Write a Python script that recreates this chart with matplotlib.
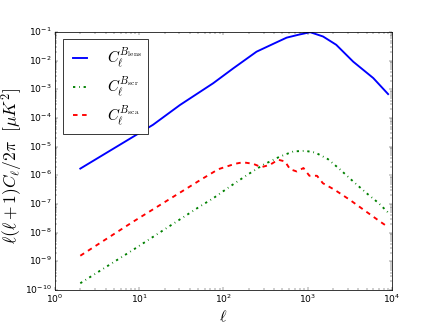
import matplotlib
matplotlib.use('Agg')
import matplotlib.pyplot as plt
from matplotlib.ticker import LogLocator

plt.style.use('classic')
plt.rcParams['mathtext.fontset'] = 'cm'

# multipoles and spectra
ell_lens = [2, 14.6, 30.5, 75.6, 131, 247, 408, 563, 775, 1070, 1520, 2180, 3470, 6000, 9000]
cl_lens = [1.70e-6, 5.75e-5, 2.82e-4, 1.62e-3, 5.37e-3, 2.04e-2, 4.07e-2, 6.31e-2,
           7.94e-2, 9.77e-2, 6.92e-2, 3.55e-2, 9.12e-3, 2.45e-3, 6.76e-4]

ell_scr = [2, 8.5, 52.5, 75.9, 120, 191, 295, 468, 676, 933, 1230, 1740, 2400, 3470,
           5010, 6920, 9000]
cl_scr = [1.70e-10, 2.51e-9, 8.13e-8, 1.58e-7, 4.07e-7, 1.02e-6, 2.29e-6, 4.47e-6,
          6.76e-6, 7.08e-6, 6.17e-6, 3.63e-6, 1.62e-6, 6.03e-7, 2.34e-7, 1.07e-7, 5.0e-8]

ell_sca = [2, 8.5, 55, 87, 138, 170, 224, 282, 355, 447, 537, 617, 741, 891, 1047, 1288,
           1514, 2089, 3162, 4786, 7244, 9000]
cl_sca = [1.55e-9, 2.40e-8, 7.24e-7, 1.62e-6, 2.51e-6, 2.82e-6, 2.51e-6, 1.91e-6, 2.29e-6,
          3.47e-6, 3.02e-6, 1.62e-6, 1.35e-6, 1.78e-6, 9.55e-7, 9.55e-7, 5.25e-7, 3.09e-7,
          1.38e-7, 5.75e-8, 2.40e-8, 1.55e-8]

labels = [r'$C_\ell^{B_{\rm lens}}$', r'$C_\ell^{B_{\rm scr}}$', r'$C_\ell^{B_{\rm sca}}$']

fig = plt.figure(figsize=(8, 6.037), dpi=54.5, facecolor='white')
ax = fig.add_axes([0.126, 0.119, 0.773, 0.784])

ax.loglog(ell_lens, cl_lens, 'b-', lw=2.5, label=labels[0])
ax.loglog(ell_scr, cl_scr, 'g-.', lw=2.5, label=labels[1])
ax.loglog(ell_sca, cl_sca, 'r--', lw=2.5, label=labels[2])

ax.set_xlim(1, 1e4)
ax.set_ylim(1e-10, 1e-1)
ax.yaxis.set_major_locator(LogLocator(base=10, numticks=20))
ax.set_xlabel(r'$\ell$', fontsize=21)
ax.set_ylabel(r'$\ell(\ell+1)C_\ell/2\pi\ \ [\mu K^2]$', fontsize=23)
ax.yaxis.set_label_coords(-0.089, 0.48)

leg = ax.legend(loc='upper left', prop={'size': 20}, handlelength=1.5,
                handletextpad=1.05, labelspacing=0.3)

fig.savefig('out.png', dpi=54.5, facecolor='white')
